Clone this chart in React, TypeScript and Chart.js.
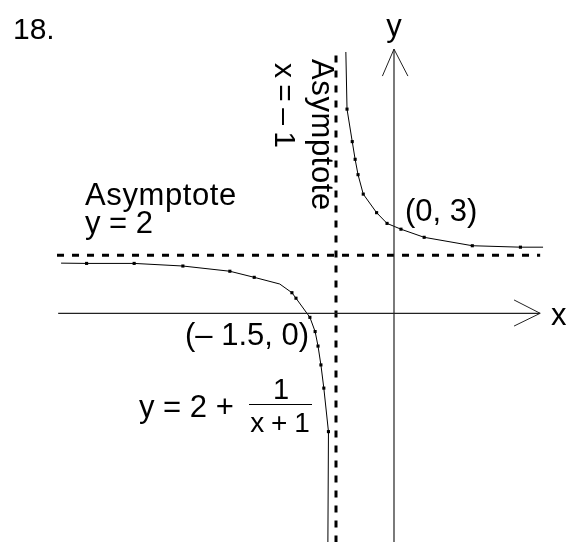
import { useEffect, useRef } from "react";
import { Chart, registerables } from "chart.js";

Chart.register(...registerables);

// Plotted points of y = 2 + 1/(x + 1), left of the vertical asymptote
const leftBranchX = [-5.74, -5.3, -4.48, -3.64, -2.83, -2.41, -1.97, -1.76, -1.69, -1.45, -1.36, -1.31, -1.26, -1.21, -1.13, -1.14];
const leftBranchY = [1.73, 1.72, 1.72, 1.63, 1.45, 1.24, 1.01, 0.71, 0.52, -0.14, -0.63, -1.13, -1.78, -2.58, -4.08, -7.9];
const leftMarked = [0, 1, 1, 1, 1, 1, 0, 1, 1, 1, 1, 1, 1, 1, 1, 0];

// Plotted points right of the vertical asymptote
const rightBranchX = [-0.83, -0.81, -0.72, -0.67, -0.62, -0.53, -0.3, -0.12, 0.12, 0.52, 1.35, 2.18, 2.57];
const rightBranchY = [9.01, 7.04, 5.92, 5.31, 4.78, 4.11, 3.47, 3.1, 2.9, 2.62, 2.33, 2.28, 2.28];
const rightMarked = [0, 1, 1, 1, 1, 1, 1, 1, 1, 1, 1, 1, 0];

// Asymptotes
const asymptoteX = -1;
const asymptoteY = 2;
const hAsymptoteRange = [-5.81, 2.52];
const vAsymptoteRange = [-7.9, 9.01];

// Coordinate axes with arrow heads
const xAxisRange = [-5.79, 2.52];
const yAxisRange = [-7.9, 9.11];
const xArrowX = [2.07, 2.52, 2.07];
const xArrowY = [0.46, 0, -0.44];
const yArrowX = [-0.2, 0, 0.24];
const yArrowY = [8.18, 9.11, 8.18];

// Labelled points
const yIntercept = [0, 3];
const xIntercept = [-1.5, 0];

const FONT = '"Liberation Sans", Arial, Helvetica, sans-serif';

const pts = (xs: number[], ys: number[]) => xs.map((x, i) => ({ x, y: ys[i] }));

const lineSet = (data: { x: number; y: number }[], extra: Record<string, unknown> = {}) => ({
  data,
  showLine: true,
  tension: 0,
  borderColor: "#000",
  backgroundColor: "#000",
  borderWidth: 1,
  pointRadius: 0,
  ...extra,
});

type Ctx = CanvasRenderingContext2D & { wordSpacing?: string; letterSpacing?: string };

const labelsPlugin = {
  id: "labels",
  afterDatasetsDraw(chart: Chart) {
    const ctx = chart.ctx as Ctx;
    const sx = chart.scales.x;
    const sy = chart.scales.y;
    const px = (v: number) => sx.getPixelForValue(v);
    const py = (v: number) => sy.getPixelForValue(v);
    ctx.save();
    ctx.fillStyle = "#000";
    ctx.textBaseline = "alphabetic";
    ctx.font = `30px ${FONT}`;
    ctx.textAlign = "left";
    ctx.fillText("18.", 13, 39);

    ctx.font = `31px ${FONT}`;
    // axis names
    ctx.textAlign = "center";
    ctx.fillText("y", px(0), 36);
    ctx.textAlign = "left";
    ctx.fillText("x", 551, py(0) + 12);

    // horizontal asymptote label
    ctx.letterSpacing = "0.6px";
    ctx.fillText("Asymptote", 85, 205);
    ctx.letterSpacing = "0px";
    ctx.fillText("y = 2", 85, 233);

    // vertical asymptote label, rotated to read downward
    ctx.save();
    ctx.translate(px(asymptoteX) - 24, 59);
    ctx.rotate(Math.PI / 2);
    ctx.letterSpacing = "0.6px";
    ctx.fillText("Asymptote", 0, 0);
    ctx.letterSpacing = "0px";
    ctx.restore();
    ctx.save();
    ctx.translate(px(asymptoteX) - 61, 63);
    ctx.rotate(Math.PI / 2);
    ctx.font = `30px ${FONT}`;
    ctx.wordSpacing = "-2px";
    ctx.fillText("x = \u2013 1", 0, 0);
    ctx.wordSpacing = "0px";
    ctx.restore();

    // intercepts
    ctx.fillText("(0, 3)", px(yIntercept[0]) + 11, py(yIntercept[1]) - 5);
    ctx.fillText("(\u2013 1.5, 0)", px(xIntercept[0]) - 122, py(xIntercept[1]) + 32);

    // equation
    ctx.fillText("y = 2 +", 139, 417);
    ctx.font = `29px ${FONT}`;
    ctx.textAlign = "center";
    ctx.fillText("1", 281, 399);
    ctx.font = `28px ${FONT}`;
    ctx.wordSpacing = "-1px";
    ctx.fillText("x + 1", 280, 432);
    ctx.wordSpacing = "0px";
    ctx.strokeStyle = "#000";
    ctx.lineWidth = 1;
    ctx.beginPath();
    ctx.moveTo(249, 404.5);
    ctx.lineTo(312, 404.5);
    ctx.stroke();
    ctx.restore();
  },
};

const bgPlugin = {
  id: "bg",
  beforeDraw(chart: Chart) {
    const ctx = chart.ctx;
    ctx.save();
    ctx.fillStyle = "#fff";
    ctx.fillRect(0, 0, chart.width, chart.height);
    ctx.restore();
  },
};

export default function App() {
  const ref = useRef<HTMLCanvasElement | null>(null);

  useEffect(() => {
    if (!ref.current) return;
    const dashed = { borderWidth: 3, borderDash: [7, 8] };
    const marker = { pointStyle: "rect", pointBorderWidth: 0, pointBackgroundColor: "#000" };
    const chart = new Chart(ref.current, {
      type: "scatter",
      data: {
        datasets: [
          lineSet(pts(xAxisRange, [0, 0]), { borderColor: "#222", borderWidth: 1.2 }),
          lineSet(pts(xArrowX, xArrowY), { borderColor: "#222" }),
          lineSet(pts([0, 0], yAxisRange), { borderColor: "#222", borderWidth: 1.2 }),
          lineSet(pts(yArrowX, yArrowY), { borderColor: "#222" }),
          lineSet(pts(hAsymptoteRange, [asymptoteY, asymptoteY]), dashed),
          lineSet(pts([asymptoteX, asymptoteX], vAsymptoteRange), dashed),
          lineSet(pts(leftBranchX, leftBranchY), {
            ...marker,
            pointRadius: leftMarked.map((m) => (m ? 2.2 : 0)),
          }),
          lineSet(pts(rightBranchX, rightBranchY), {
            ...marker,
            pointRadius: rightMarked.map((m) => (m ? 2.2 : 0)),
          }),
        ],
      },
      options: {
        animation: false,
        responsive: false,
        events: [],
        layout: { padding: 0 },
        scales: {
          x: { type: "linear", min: -6.793, max: 3.0, display: false },
          y: { type: "linear", min: -7.886, max: 10.803, display: false },
        },
        plugins: { legend: { display: false }, tooltip: { enabled: false } },
      },
      plugins: [bgPlugin, labelsPlugin],
    });
    return () => chart.destroy();
  }, []);

  return (
    <div style={{ position: "absolute", left: 0, top: 0, width: 568, height: 542, background: "#fff" }}>
      <canvas ref={ref} width={568} height={542} />
    </div>
  );
}
